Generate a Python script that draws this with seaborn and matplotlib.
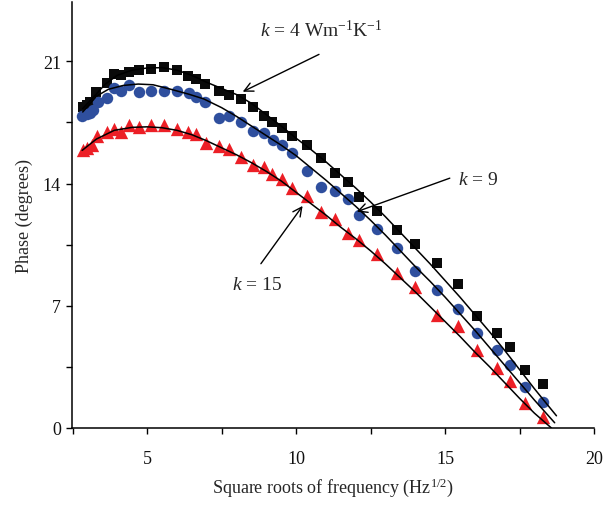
import matplotlib
matplotlib.use("Agg")
import matplotlib.pyplot as plt
import seaborn as sns
import pandas as pd
from matplotlib.ticker import MultipleLocator

# ---- data: measured points ----
k4_x = [2.84, 2.99, 3.10, 3.28, 3.64, 3.89, 4.11, 4.39, 4.72, 5.12, 5.57, 5.99, 6.39, 6.63, 6.95,
        7.40, 7.75, 8.15, 8.54, 8.91, 9.20, 9.52, 9.87, 10.36, 10.85, 11.32, 11.73, 12.11, 12.72,
        13.40, 13.99, 14.74, 15.42, 16.08, 16.75, 17.18, 17.70, 18.30]
k4_y = [18.40, 18.50, 18.65, 19.22, 19.74, 20.29, 20.21, 20.41, 20.50, 20.56, 20.69, 20.48, 20.16,
        19.97, 19.72, 19.32, 19.06, 18.87, 18.37, 17.88, 17.51, 17.21, 16.70, 16.20, 15.49, 14.63,
        14.11, 13.21, 12.41, 11.32, 10.52, 9.43, 8.22, 6.43, 5.43, 4.63, 3.34, 2.52]

k9_x = [2.83, 2.97, 3.08, 3.19, 3.34, 3.64, 3.89, 4.11, 4.39, 4.73, 5.13, 5.57, 6.00, 6.40, 6.64,
        6.96, 7.41, 7.76, 8.16, 8.55, 8.92, 9.21, 9.52, 9.88, 10.36, 10.85, 11.32, 11.73, 12.11,
        12.72, 13.40, 13.99, 14.74, 15.42, 16.08, 16.75, 17.18, 17.70, 18.30]
k9_y = [17.88, 17.98, 18.07, 18.20, 18.69, 18.88, 19.45, 19.33, 19.64, 19.22, 19.29, 19.29, 19.32,
        19.16, 18.97, 18.69, 17.78, 17.88, 17.50, 17.00, 16.91, 16.52, 16.20, 15.74, 14.72, 13.81,
        13.58, 13.14, 12.20, 11.40, 10.29, 8.99, 7.92, 6.81, 5.43, 4.44, 3.63, 2.33, 1.51]

k15_x = [2.84, 2.99, 3.15, 3.31, 3.64, 3.89, 4.11, 4.39, 4.72, 5.12, 5.57, 5.99, 6.39, 6.63, 6.97,
         7.40, 7.75, 8.15, 8.54, 8.91, 9.20, 9.52, 9.88, 10.36, 10.85, 11.32, 11.73, 12.11, 12.72,
         13.40, 13.99, 14.74, 15.42, 16.08, 16.75, 17.18, 17.70, 18.30]
k15_y = [15.95, 16.06, 16.20, 16.73, 16.96, 17.15, 16.96, 17.34, 17.25, 17.34, 17.34, 17.15, 16.96,
         16.83, 16.33, 16.16, 15.97, 15.53, 15.05, 14.96, 14.52, 14.29, 13.73, 13.28, 12.38, 11.95,
         11.17, 10.75, 9.98, 8.88, 8.07, 6.48, 5.87, 4.49, 3.46, 2.68, 1.42, 0.61]

# ---- data: fitted (model) curves ----
fit4_x = [2.84, 3.2, 3.6, 4.0, 4.5, 5.0, 5.5, 6.0, 6.5, 7.0, 7.5, 8.0, 8.5, 9.0, 9.5, 10.0, 10.5,
          11.0, 11.5, 12.0, 12.5, 13.0, 13.5, 14.0, 14.5, 15.0, 15.5, 16.0, 16.5, 17.0, 17.5, 18.0,
          18.5, 18.74]
fit4_y = [18.3, 18.95, 19.7, 20.2, 20.5, 20.62, 20.64, 20.5, 20.2, 19.8, 19.45, 19.1, 18.6, 17.95,
          17.3, 16.6, 15.95, 15.25, 14.5, 13.75, 12.95, 12.1, 11.2, 10.3, 9.4, 8.45, 7.5, 6.5, 5.5,
          4.45, 3.35, 2.25, 1.2, 0.7]

fit9_x = [2.84, 3.3, 3.7, 4.2, 4.7, 5.2, 5.8, 6.4, 6.9, 7.5, 8.0, 8.5, 9.0, 9.5, 10.0, 10.5, 11.0,
          11.5, 12.0, 12.5, 13.0, 13.5, 14.0, 14.5, 15.0, 15.5, 16.0, 16.5, 17.0, 17.5, 18.0, 18.68]
fit9_y = [18.1, 19.0, 19.4, 19.62, 19.7, 19.66, 19.4, 19.12, 18.85, 18.35, 17.85, 17.3, 16.75,
          16.2, 15.6, 14.9, 14.2, 13.45, 12.7, 11.9, 11.05, 10.15, 9.25, 8.4, 7.5, 6.55, 5.6, 4.6,
          3.6, 2.6, 1.6, 0.3]

fit15_x = [2.82, 3.3, 3.9, 4.5, 5.0, 5.5, 6.0, 6.5, 7.0, 7.5, 8.0, 8.5, 9.0, 9.5, 10.0, 10.5, 11.0,
           11.5, 12.0, 12.5, 13.0, 13.5, 14.0, 14.5, 15.0, 15.5, 16.0, 16.5, 17.0, 17.5, 18.0, 18.57]
fit15_y = [15.9, 16.55, 17.05, 17.22, 17.25, 17.2, 17.05, 16.8, 16.45, 16.05, 15.65, 15.2, 14.7,
           14.15, 13.5, 12.85, 12.2, 11.5, 10.85, 10.15, 9.4, 8.6, 7.8, 6.95, 6.1, 5.25, 4.35, 3.5,
           2.6, 1.7, 0.85, 0.0]

x_ticks = [5, 10, 15, 20]
y_ticks = [0, 7, 14, 21]

# ---- style ----
sns.set_theme(style="ticks")
plt.rcParams["font.family"] = ["Liberation Serif", "DejaVu Serif"]
plt.rcParams["mathtext.fontset"] = "custom"
plt.rcParams["mathtext.rm"] = "Liberation Serif"
plt.rcParams["mathtext.it"] = "Liberation Serif:italic"

fig = plt.figure(figsize=(6.04, 5.06), dpi=100)
ax = fig.add_axes([72 / 604, 77 / 506, 522 / 604, 426 / 506])

pts = [
    (k4_x, k4_y, "s", "#0a0a0a", 50),
    (k9_x, k9_y, "o", "#2f4f9e", 68),
    (k15_x, k15_y, "^", "#ec1f26", 92),
]
for xs, ys, mk, col, sz in pts:
    sns.scatterplot(data=pd.DataFrame({"x": xs, "y": ys}), x="x", y="y", marker=mk,
                    color=col, s=sz, linewidth=0, ax=ax, zorder=2)

for xs, ys in [(fit4_x, fit4_y), (fit9_x, fit9_y), (fit15_x, fit15_y)]:
    sns.lineplot(data=pd.DataFrame({"x": xs, "y": ys}), x="x", y="y", estimator=None,
                 sort=False, color="black", lw=1.1, ax=ax, zorder=3)

ax.set_xlim(2.48, 20)
ax.set_ylim(0, 24.4)
ax.set_xticks(x_ticks)
ax.set_yticks(y_ticks)
ax.xaxis.set_minor_locator(MultipleLocator(2.5))
ax.yaxis.set_minor_locator(MultipleLocator(3.5))
ax.tick_params(which="both", direction="out", length=4, width=1, color="black",
               labelsize=13, labelcolor="#111111")
ax.tick_params(axis="x", which="major", pad=12)
ax.tick_params(axis="y", which="major", pad=4)
sns.despine(ax=ax)
for sp in ["left", "bottom"]:
    ax.spines[sp].set_linewidth(1.1)
    ax.spines[sp].set_color("black")

ax.set_xlabel(r"Square roots of frequency (Hz$^{1/2}$)", fontsize=13, labelpad=6)
ax.set_ylabel("Phase (degrees)", fontsize=13, labelpad=7)

arrow = dict(arrowstyle="->", lw=1.0, color="black", mutation_scale=16, shrinkA=0, shrinkB=0)
ax.annotate(r"$k$ = 4 Wm$^{-1}$K$^{-1}$", xy=(8.21, 19.26), xytext=(10.85, 22.85),
            fontsize=14, ha="center", va="center")
ax.annotate("", xy=(8.21, 19.26), xytext=(10.77, 21.40), arrowprops=arrow)
ax.annotate(r"$k$ = 9", xy=(12.04, 12.39), xytext=(16.12, 14.23), fontsize=14,
            ha="center", va="center")
ax.annotate("", xy=(12.04, 12.39), xytext=(15.16, 14.31), arrowprops=arrow)
ax.annotate(r"$k$ = 15", xy=(10.22, 12.72), xytext=(8.69, 8.2), fontsize=14,
            ha="center", va="center")
ax.annotate("", xy=(10.22, 12.72), xytext=(8.82, 9.41), arrowprops=arrow)

fig.savefig("out.png", dpi=100)
